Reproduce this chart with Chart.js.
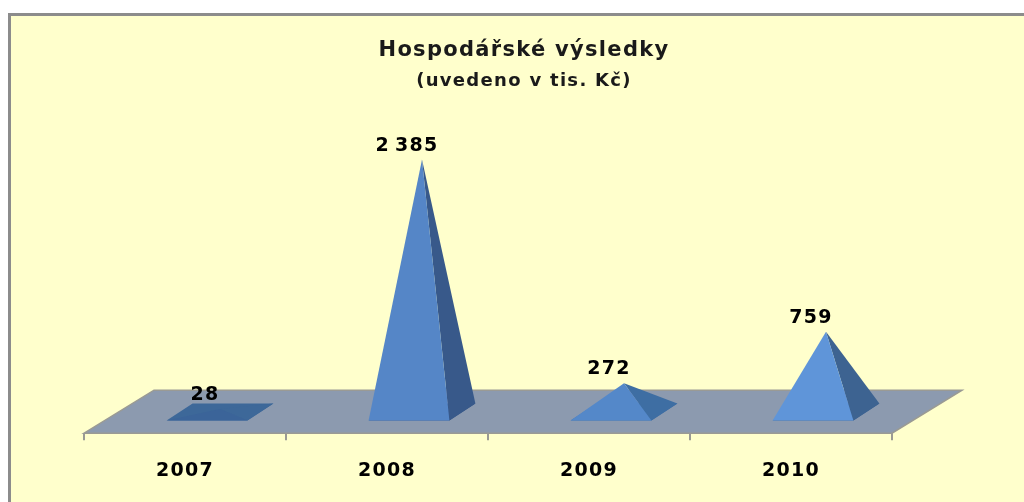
<!DOCTYPE html>
<html lang="cs"><head><meta charset="utf-8">
<style>html,body{margin:0;padding:0;background:#fff}#w{width:1024px;height:502px}canvas{display:block;filter:blur(0.4px)}</style>
<script src="https://cdn.jsdelivr.net/npm/chart.js@4/dist/chart.umd.js"></script>
</head><body><div id="w"><canvas id="c" width="1024" height="502"></canvas></div>
<script>
const categories = ['2007', '2008', '2009', '2010'];
const results = [28, 2385, 272, 759];
const valueLabels = ['28', '2 385', '272', '759'];
const titleText = 'Hospodářské výsledky';
const subtitleText = '(uvedeno v tis. Kč)';

const frontColors = ['#3B6499', '#5586C7', '#5488C9', '#5F95D9'];
const sideColors = ['#3D6899', '#38598A', '#3E6EA3', '#3D6391'];
const depthX = 70, depthY = 43;   // oblique projection of the floor
const baseDX = 26, baseDY = 17;   // projected depth of a pyramid's base

class PyramidElement extends Chart.BarElement {
  draw(ctx) {
    const { x, y, base, width } = this.getProps(['x', 'y', 'base', 'width']);
    const o = this.options;
    const cx = x + depthX / 2;
    const fy = base + baseDY / 2, by = base - baseDY / 2;
    const fl = cx - baseDX / 2 - width / 2, fr = fl + width;
    const poly = (pts, c) => {
      ctx.beginPath();
      pts.forEach((p, i) => i ? ctx.lineTo(p[0], p[1]) : ctx.moveTo(p[0], p[1]));
      ctx.closePath();
      ctx.fillStyle = c;
      ctx.fill();
    };
    ctx.save();
    poly([[fl, fy], [fr, fy], [fr + baseDX, by], [fl + baseDX, by]], o.borderColor);
    poly([[fr, fy], [fr + baseDX, by], [cx, y]], o.borderColor);
    poly([[fl, fy], [fr, fy], [cx, y]], o.backgroundColor);
    ctx.restore();
  }
}
PyramidElement.id = 'pyramid';
PyramidElement.defaults = Chart.BarElement.defaults;
PyramidElement.defaultRoutes = Chart.BarElement.defaultRoutes;

class PyramidController extends Chart.BarController {}
PyramidController.id = 'pyramid';
PyramidController.defaults = Object.assign({}, Chart.BarController.defaults, { dataElementType: 'pyramid' });
PyramidController.overrides = Chart.BarController.overrides;
Chart.register(PyramidElement, PyramidController);

const framePlugin = {
  id: 'frame',
  afterLayout(chart) {
    chart.boxes.forEach(b => {
      if (b.options && (b.options.text === titleText || b.options.text === subtitleText)) {
        b.left += 36; b.right += 36;
      }
    });
  },
  beforeDraw(chart) {
    const c = chart.ctx;
    c.save();
    c.fillStyle = '#fff';
    c.fillRect(0, 0, 1024, 502);
    c.fillStyle = '#FFFFCC';
    c.fillRect(8, 13, 1016, 489);
    c.strokeStyle = '#8C8C8C';
    c.lineWidth = 3;
    c.beginPath();
    c.moveTo(9.5, 502);
    c.lineTo(9.5, 14.5);
    c.lineTo(1024, 14.5);
    c.stroke();
    c.restore();
    c.letterSpacing = '1.3px';
  }
};
const floorPlugin = {
  id: 'floor',
  beforeDatasetsDraw(chart) {
    const { left, right, bottom } = chart.chartArea;
    const c = chart.ctx;
    c.save();
    c.beginPath();
    c.moveTo(left, bottom);
    c.lineTo(right, bottom);
    c.lineTo(right + depthX, bottom - depthY);
    c.lineTo(left + depthX, bottom - depthY);
    c.closePath();
    c.fillStyle = '#8C9AAF';
    c.fill();
    c.strokeStyle = '#9A9A94';
    c.lineWidth = 1.5;
    c.stroke();
    c.restore();
  }
};
const labelPlugin = {
  id: 'valueLabels',
  afterDatasetsDraw(chart) {
    const c = chart.ctx, meta = chart.getDatasetMeta(0);
    c.save();
    c.font = 'bold 19px "DejaVu Sans"';
    c.fillStyle = '#000';
    c.textAlign = 'center';
    c.textBaseline = 'middle';
    c.wordSpacing = '-3px';
    meta.data.forEach((el, i) => {
      c.fillText(valueLabels[i], el.x + 20, el.y - 14);
    });
    c.restore();
  }
};

new Chart(document.getElementById('c'), {
  type: 'pyramid',
  data: {
    labels: categories,
    datasets: [{
      data: results,
      backgroundColor: frontColors,
      borderColor: sideColors,
      barPercentage: 0.4,
      categoryPercentage: 1
    }]
  },
  plugins: [framePlugin, floorPlugin, labelPlugin],
  options: {
    responsive: false,
    animation: false,
    layout: { padding: { left: 84, right: 132, top: 20, bottom: 1 } },
    plugins: {
      legend: { display: false },
      tooltip: { enabled: false },
      title: {
        display: true,
        text: titleText,
        color: '#1a1a1a',
        font: { family: '"DejaVu Sans"', size: 21, weight: 'bold', lineHeight: 1.2 },
        padding: { top: 18.4, bottom: 0 }
      },
      subtitle: {
        display: true,
        text: subtitleText,
        color: '#1a1a1a',
        font: { family: '"DejaVu Sans"', size: 18, weight: 'bold', lineHeight: 1.2 },
        padding: { top: 6.6, bottom: 66.2 }
      }
    },
    scales: {
      x: {
        grid: { display: true, drawOnChartArea: false, drawTicks: true, tickLength: 7, offset: true, color: '#9A9A94', lineWidth: 2 },
        border: { display: false },
        ticks: { color: '#000', padding: 19, font: { family: '"DejaVu Sans"', size: 19, weight: 'bold' }, maxRotation: 0 }
      },
      y: { display: false, min: -200, max: 2400 }
    }
  }
});
</script></body></html>
